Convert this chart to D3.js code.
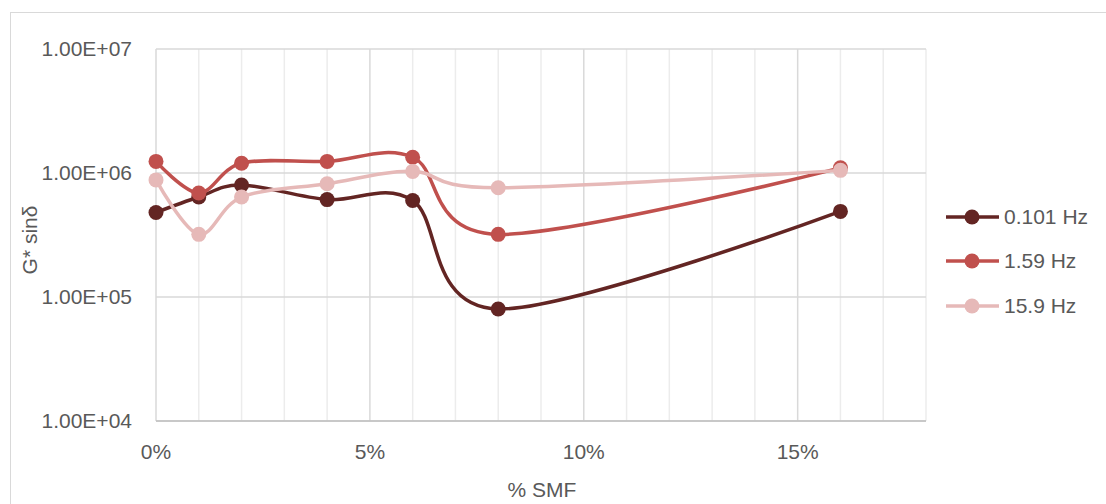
<!DOCTYPE html>
<html><head><meta charset="utf-8">
<script src="https://cdn.jsdelivr.net/npm/d3@7"></script>
<style>body{margin:0;background:#fff}svg{display:block}text{font-family:"Liberation Sans",Arial,sans-serif;fill:#595959}</style>
</head><body><svg id="c" width="1106" height="504"></svg>
<script>
const xValues = [0, 1, 2, 4, 6, 8, 16];
const seriesNames = ["0.101 Hz", "1.59 Hz", "15.9 Hz"];
const series0101 = [4.8e5, 6.4e5, 8.0e5, 6.1e5, 6.0e5, 8.0e4, 4.9e5];
const series159 = [1.24e6, 6.9e5, 1.2e6, 1.24e6, 1.34e6, 3.2e5, 1.1e6];
const series159b = [8.8e5, 3.2e5, 6.4e5, 8.2e5, 1.03e6, 7.6e5, 1.05e6];
const colors = ["#632523", "#C0504D", "#E6B9B8"];
const yTicks = [1e4, 1e5, 1e6, 1e7];
const xTicks = [0, 5, 10, 15];

const svg = d3.select("#c");
svg.append("rect").attr("x",10.5).attr("y",12.5).attr("width",1110).attr("height",520)
  .attr("fill","none").attr("stroke","#d9d9d9");

const L=156, R=926, T=49, B=421;
const x = d3.scaleLinear().domain([0,18]).range([L,R]);
const y = d3.scaleLog().domain([1e4,1e7]).range([B,T]);

const g = svg.append("g");
g.selectAll(".mv").data(d3.range(1,19).filter(d=>d%5!==0)).join("line")
  .attr("x1",d=>x(d)).attr("x2",d=>x(d)).attr("y1",T).attr("y2",B)
  .attr("stroke","#ececec").attr("stroke-width",1.5);
g.selectAll(".Mv").data([5,10,15]).join("line")
  .attr("x1",d=>x(d)).attr("x2",d=>x(d)).attr("y1",T).attr("y2",B)
  .attr("stroke","#d9d9d9").attr("stroke-width",1.5);
g.selectAll(".hy").data(yTicks).join("line")
  .attr("x1",L).attr("x2",R).attr("y1",d=>y(d)).attr("y2",d=>y(d))
  .attr("stroke","#d9d9d9").attr("stroke-width",1.5);
g.append("line").attr("x1",L).attr("x2",L).attr("y1",T).attr("y2",B).attr("stroke","#d9d9d9").attr("stroke-width",1.5);
g.append("line").attr("x1",L).attr("x2",R).attr("y1",B).attr("y2",B).attr("stroke","#bfbfbf").attr("stroke-width",1.5);

svg.selectAll(".yl").data(yTicks).join("text")
  .attr("x",132).attr("y",d=>y(d)).attr("dy","0.35em").attr("text-anchor","end")
  .attr("font-size",21).text(d=>d.toExponential(2).toUpperCase().replace(/E([+-])(\d)$/,"E$10$2"));
svg.selectAll(".xl").data(xTicks).join("text")
  .attr("x",d=>x(d)).attr("y",452).attr("dy","0.35em").attr("text-anchor","middle")
  .attr("font-size",21).text(d=>d+"%");
svg.append("text").attr("x",542).attr("y",490).attr("dy","0.35em").attr("text-anchor","middle")
  .attr("font-size",21).text("% SMF");
svg.append("text").attr("transform","translate(30,240) rotate(-90)").attr("dy","0.35em")
  .attr("text-anchor","middle").attr("font-size",21).text("G* sinδ");

const all = [series0101, series159, series159b];
const line = d3.line().x((d,i)=>x(xValues[i])).y(d=>y(d)).curve(d3.curveCatmullRom.alpha(0));
all.forEach((s,k)=>{
  svg.append("path").attr("d",line(s)).attr("fill","none").attr("stroke",colors[k]).attr("stroke-width",3.5).attr("stroke-linecap","round");
  svg.selectAll(".p"+k).data(s).join("circle").attr("cx",(d,i)=>x(xValues[i])).attr("cy",d=>y(d)).attr("r",7.5).attr("fill",colors[k]);
});

const ly=[217,261,306];
seriesNames.forEach((n,k)=>{
  svg.append("line").attr("x1",946).attr("x2",999).attr("y1",ly[k]).attr("y2",ly[k]).attr("stroke",colors[k]).attr("stroke-width",3.5);
  svg.append("circle").attr("cx",972).attr("cy",ly[k]).attr("r",7.5).attr("fill",colors[k]);
  svg.append("text").attr("x",1004).attr("y",ly[k]).attr("dy","0.35em").attr("font-size",21).text(n);
});
</script></body></html>
